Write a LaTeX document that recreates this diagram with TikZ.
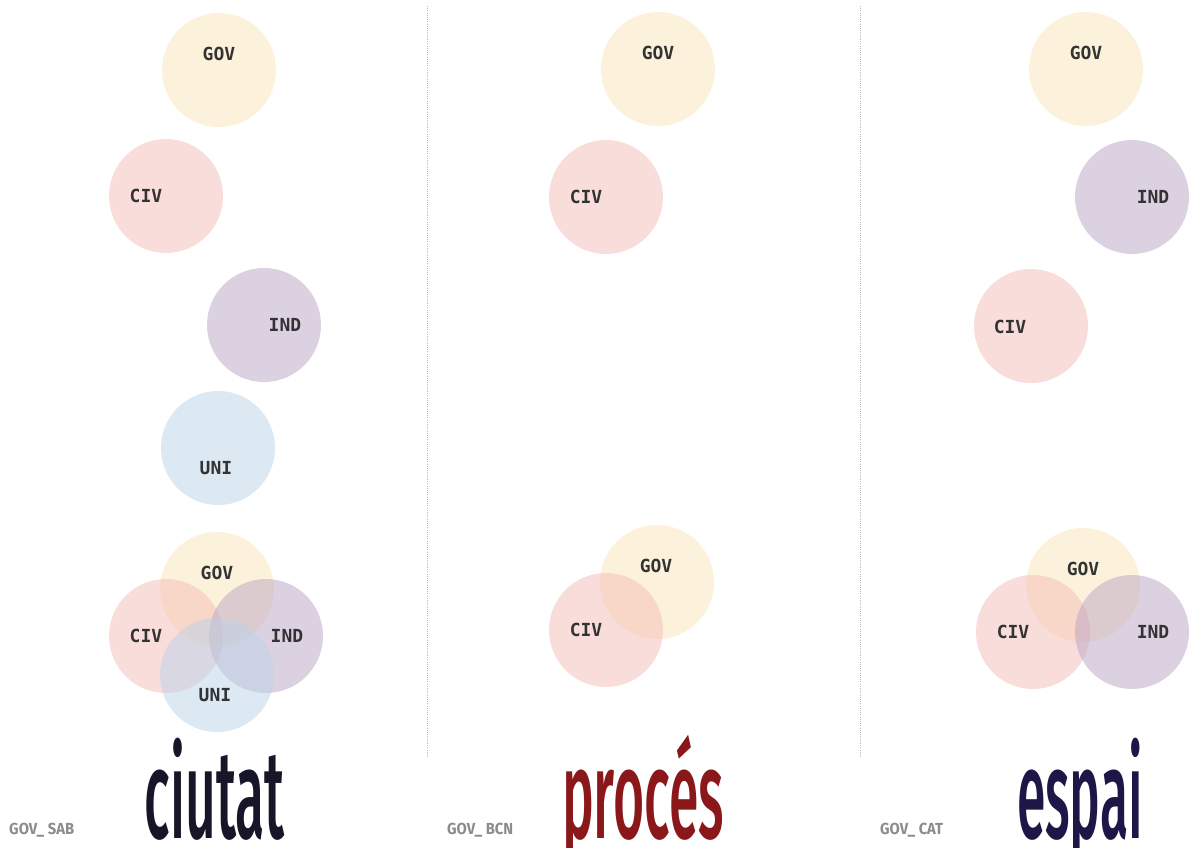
\documentclass[tikz,border=0pt]{standalone}
\usepackage{fontspec}
\usepackage{graphicx}
\setmainfont{Fira Sans}
\setmonofont{DejaVu Sans Mono}
\newfontfamily\titlefont{Fira Sans Medium}
\newfontfamily\smallfont{Fira Sans}
\definecolor{govc}{RGB}{251,231,185}
\definecolor{civc}{RGB}{245,189,185}
\definecolor{indc}{RGB}{187,165,197}
\definecolor{unic}{RGB}{187,211,231}
\definecolor{labc}{RGB}{51,51,51}
\definecolor{ciutatc}{RGB}{22,22,40}
\definecolor{procesc}{RGB}{138,24,26}
\definecolor{espaic}{RGB}{30,22,70}
\definecolor{smallc}{RGB}{140,140,140}
\definecolor{divc}{RGB}{185,185,185}
\tikzset{
  bub/.style={circle, minimum size=114pt, inner sep=0pt, fill opacity=0.5, draw=none},
  gov/.style={bub, fill=govc},
  civ/.style={bub, fill=civc},
  ind/.style={bub, fill=indc},
  uni/.style={bub, fill=unic},
  lab/.style={font=\fontsize{18pt}{18pt}\selectfont\ttfamily\bfseries, text=labc, inner sep=0pt},
  divider/.style={draw=divc, line width=0.8pt, dash pattern=on 1pt off 1.2pt},
  ttl/.style={inner sep=0pt, anchor=base},
  small/.style={inner sep=0pt, anchor=base west, text=smallc}
}
\newcommand{\bigword}[3]{\resizebox{#1}{\height}{\titlefont\fontsize{126pt}{126pt}\selectfont\color{#2}#3}}
\newcommand{\smallword}[2]{\resizebox{#1}{\height}{\smallfont\bfseries\fontsize{16pt}{16pt}\selectfont #2}}
\begin{document}
\begin{tikzpicture}[x=1pt,y=-1pt]
\useasboundingbox[fill=white] (0,0) rectangle (1189,848);
% dividers
\coordinate (d1t) at (427,6);
\coordinate (d1b) at (427,758);
\coordinate (d2t) at (860,6);
\coordinate (d2b) at (860,758);
\draw[divider] (d1t) -- (d1b);
\draw[divider] (d2t) -- (d2b);
% column 1
\node[gov] (g1) at (219,70) {};
\node[civ] (c1) at (166,196) {};
\node[ind] (i1) at (264,325) {};
\node[uni] (u1) at (218,448) {};
\node[lab] (g1l) at (219,54) {GOV};
\node[lab] (c1l) at (146,196) {CIV};
\node[lab] (i1l) at (285,325) {IND};
\node[lab] (u1l) at (216,468) {UNI};
\node[gov] (g1b) at (217,589) {};
\node[civ] (c1b) at (166,636) {};
\node[ind] (i1b) at (266,636) {};
\node[uni] (u1b) at (217,675) {};
\node[lab] (g1bl) at (217,573) {GOV};
\node[lab] (c1bl) at (146,636) {CIV};
\node[lab] (i1bl) at (287,636) {IND};
\node[lab] (u1bl) at (215,695) {UNI};
% column 2
\node[gov] (g2) at (658,69) {};
\node[civ] (c2) at (606,197) {};
\node[lab] (g2l) at (658,53) {GOV};
\node[lab] (c2l) at (586,197) {CIV};
\node[gov] (g2b) at (657,582) {};
\node[civ] (c2b) at (606,630) {};
\node[lab] (g2bl) at (656,566) {GOV};
\node[lab] (c2bl) at (586,630) {CIV};
% column 3
\node[gov] (g3) at (1086,69) {};
\node[ind] (i3) at (1132,197) {};
\node[civ] (c3) at (1031,326) {};
\node[lab] (g3l) at (1086,53) {GOV};
\node[lab] (i3l) at (1153,197) {IND};
\node[lab] (c3l) at (1010,327) {CIV};
\node[gov] (g3b) at (1083,585) {};
\node[civ] (c3b) at (1033,632) {};
\node[ind] (i3b) at (1132,632) {};
\node[lab] (g3bl) at (1083,569) {GOV};
\node[lab] (c3bl) at (1013,632) {CIV};
\node[lab] (i3bl) at (1153,632) {IND};
% titles
\node[ttl] (t1) at (215,838) {\bigword{140pt}{ciutatc}{ciutat}};
\node[ttl] (t2) at (643,838) {\bigword{162pt}{procesc}{procés}};
\node[ttl] (t3) at (1080,838) {\bigword{126pt}{espaic}{espai}};
% small labels
\node[small] (s1) at (9,834) {\smallword{65pt}{GOV\_ SAB}};
\node[small] (s2) at (447,834) {\smallword{66pt}{GOV\_ BCN}};
\node[small] (s3) at (880,834) {\smallword{63pt}{GOV\_ CAT}};
\end{tikzpicture}
\end{document}
